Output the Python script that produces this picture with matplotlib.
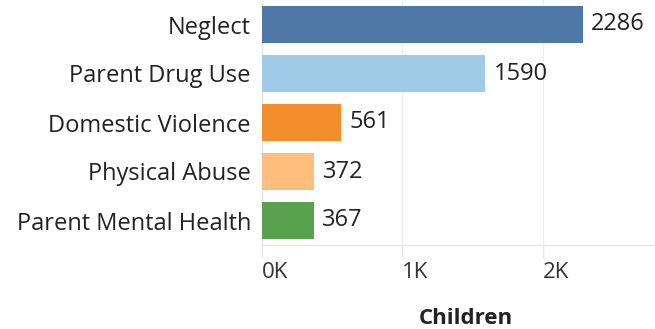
import matplotlib.pyplot as plt
from matplotlib.ticker import FuncFormatter

categories = ["Neglect", "Parent Drug Use", "Domestic Violence",
              "Physical Abuse", "Parent Mental Health"]
children = [2286, 1590, 561, 372, 367]
colors = ["#4e79a7", "#a0cbe8", "#f28e2b", "#ffbe7d", "#59a14f"]
ticks = [0, 1000, 2000]

plt.rcParams["font.family"] = ["Open Sans", "DejaVu Sans"]

fig = plt.figure(figsize=(6.55, 3.29), dpi=100)
ax = fig.add_axes([262 / 655, 1 - 245 / 329, 1 - 262 / 655, 245 / 329])

y = range(len(categories))
ax.barh(y, children, height=0.75, color=colors, zorder=3)

# value labels just past the end of each bar
for yi, v in zip(y, children):
    ax.text(v + 60, yi, str(v), va="center", ha="left",
            fontsize=17, color="#222222")

ax.set_ylim(4.5, -0.5)
ax.set_xlim(0, 2800)
ax.set_yticks(list(y))
ax.set_yticklabels(categories, fontsize=17, color="#222222")
ax.tick_params(axis="y", length=0, pad=8)

ax.set_xticks(ticks)
ax.xaxis.set_major_formatter(FuncFormatter(lambda v, _: f"{int(v / 1000)}K"))
ax.tick_params(axis="x", length=9, color="#e6e6e6", width=1,
               labelsize=16, labelcolor="#333333", pad=3)
for lab in ax.get_xticklabels():
    lab.set_horizontalalignment("left")

ax.grid(axis="x", color="#eeeeee", linewidth=1, zorder=0)
for side in ["top", "right"]:
    ax.spines[side].set_visible(False)
ax.spines["left"].set_color("#e0e0e0")
ax.spines["bottom"].set_color("#e6e6e6")

fig.text(466 / 655, 1 - 318 / 329, "Children", ha="center", va="center",
         fontsize=16, fontweight="bold", color="#222222")

fig.savefig("out.png", dpi=100)
